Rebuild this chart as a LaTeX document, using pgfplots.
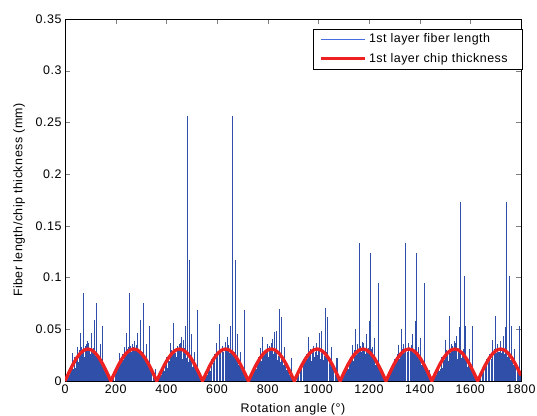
\documentclass[border=0pt]{standalone}
\usepackage{fontspec}
\setmainfont{Liberation Sans}[LetterSpace=4]
\usepackage{pgfplots}
\pgfplotsset{compat=1.18}
\definecolor{mblue}{rgb}{0.19,0.31,0.66}
\definecolor{lblue}{rgb}{0.28,0.42,0.88}
\definecolor{mred}{rgb}{0.93,0.13,0.13}
\begin{document}
\begin{tikzpicture}
\begin{axis}[
 scale only axis, width=456bp, height=362bp,
 xmin=0, xmax=1800, ymin=0, ymax=0.35,
 xtick={0,200,400,600,800,1000,1200,1400,1600,1800},
 ytick={0,0.05,0.1,0.15,0.2,0.25,0.3,0.35},
 tick align=inside, major tick length=5bp,
 font=\fontsize{12.5}{15}\selectfont,
 /pgf/number format/assume math mode=true,
 yticklabel style={/pgf/number format/fixed,/pgf/number format/precision=2},
 xticklabel style={/pgf/number format/1000 sep={}},
 xlabel={Rotation angle (°)},
 ylabel={Fiber length/chip thickness (mm)},
 xlabel style={yshift=-3bp},
 ylabel style={yshift=4bp},
 legend style={at={(rel axis cs:1.002,0.973)}, anchor=north east, draw=black,
   font=\fontsize{12.5}{15}\selectfont, inner xsep=6bp, inner ysep=3bp,
   cells={anchor=west}, row sep=5bp},
]
\addplot[ycomb, mblue, line width=0.85bp, no markers, forget plot]
coordinates {
(6,0.002)(12,0.005)(18,0.006)(24,0.011)(30,0.010)(36,0.016)(42,0.013)(48,0.020)(54,0.018)(60,0.024)(66,0.019)(72,0.027)(78,0.023)(84,0.028)(90,0.025)(96,0.029)(102,0.021)(108,0.027)(114,0.020)(120,0.024)(126,0.018)(132,0.021)(138,0.015)(144,0.016)(150,0.011)(156,0.010)(162,0.006)(168,0.005)(174,0.002)
(187,0.002)(193,0.005)(199,0.006)(205,0.011)(211,0.010)(217,0.016)(223,0.013)(229,0.020)(235,0.018)(241,0.024)(247,0.019)(253,0.027)(259,0.023)(265,0.028)(271,0.025)(277,0.029)(283,0.021)(289,0.027)(295,0.020)(301,0.024)(307,0.018)(313,0.021)(319,0.015)(325,0.016)(331,0.011)(337,0.010)(343,0.006)(349,0.005)(355,0.002)
(368,0.002)(374,0.005)(380,0.006)(386,0.011)(392,0.010)(398,0.016)(404,0.013)(410,0.020)(416,0.018)(422,0.024)(428,0.019)(434,0.027)(440,0.023)(446,0.028)(452,0.025)(458,0.029)(464,0.021)(470,0.027)(476,0.020)(482,0.024)(488,0.018)(494,0.021)(500,0.015)(506,0.016)(512,0.011)(518,0.010)(524,0.006)(530,0.005)(536,0.002)
(549,0.002)(555,0.005)(561,0.006)(567,0.011)(573,0.010)(579,0.016)(585,0.013)(591,0.020)(597,0.018)(603,0.024)(609,0.019)(615,0.027)(621,0.023)(627,0.028)(633,0.025)(639,0.029)(645,0.021)(651,0.027)(657,0.020)(663,0.024)(669,0.018)(675,0.021)(681,0.015)(687,0.016)(693,0.011)(699,0.010)(705,0.006)(711,0.005)(717,0.002)
(730,0.002)(736,0.005)(742,0.006)(748,0.011)(754,0.010)(760,0.016)(766,0.013)(772,0.020)(778,0.018)(784,0.024)(790,0.019)(796,0.027)(802,0.023)(808,0.028)(814,0.025)(820,0.029)(826,0.021)(832,0.027)(838,0.020)(844,0.024)(850,0.018)(856,0.021)(862,0.015)(868,0.016)(874,0.011)(880,0.010)(886,0.006)(892,0.005)(898,0.002)
(911,0.002)(917,0.005)(923,0.006)(929,0.011)(935,0.010)(941,0.016)(947,0.013)(953,0.020)(959,0.018)(965,0.024)(971,0.019)(977,0.027)(983,0.023)(989,0.028)(995,0.025)(1001,0.029)(1007,0.021)(1013,0.027)(1019,0.020)(1025,0.024)(1031,0.018)(1037,0.021)(1043,0.015)(1049,0.016)(1055,0.011)(1061,0.010)(1067,0.006)(1073,0.005)(1079,0.002)
(1092,0.002)(1098,0.005)(1104,0.006)(1110,0.011)(1116,0.010)(1122,0.016)(1128,0.013)(1134,0.020)(1140,0.018)(1146,0.024)(1152,0.019)(1158,0.027)(1164,0.023)(1170,0.028)(1176,0.025)(1182,0.029)(1188,0.021)(1194,0.027)(1200,0.020)(1206,0.024)(1212,0.018)(1218,0.021)(1224,0.015)(1230,0.016)(1236,0.011)(1242,0.010)(1248,0.006)(1254,0.005)(1260,0.002)
(1273,0.002)(1279,0.005)(1285,0.006)(1291,0.011)(1297,0.010)(1303,0.016)(1309,0.013)(1315,0.020)(1321,0.018)(1327,0.024)(1333,0.019)(1339,0.027)(1345,0.023)(1351,0.028)(1357,0.025)(1363,0.029)(1369,0.021)(1375,0.027)(1381,0.020)(1387,0.024)(1393,0.018)(1399,0.021)(1405,0.015)(1411,0.016)(1417,0.011)(1423,0.010)(1429,0.006)(1435,0.005)(1441,0.002)
(1454,0.002)(1460,0.005)(1466,0.006)(1472,0.011)(1478,0.010)(1484,0.016)(1490,0.013)(1496,0.020)(1502,0.018)(1508,0.024)(1514,0.019)(1520,0.027)(1526,0.023)(1532,0.028)(1538,0.025)(1544,0.029)(1550,0.021)(1556,0.027)(1562,0.020)(1568,0.024)(1574,0.018)(1580,0.021)(1586,0.015)(1592,0.016)(1598,0.011)(1604,0.010)(1610,0.006)(1616,0.005)(1622,0.002)
(1635,0.002)(1641,0.005)(1647,0.006)(1653,0.011)(1659,0.010)(1665,0.016)(1671,0.013)(1677,0.020)(1683,0.018)(1689,0.024)(1695,0.019)(1701,0.027)(1707,0.023)(1713,0.028)(1719,0.025)(1725,0.029)(1731,0.021)(1737,0.027)(1743,0.020)(1749,0.024)(1755,0.018)(1761,0.021)(1767,0.015)(1773,0.016)(1779,0.011)(1785,0.010)(1791,0.006)(1797,0.005)
};
\addplot[ycomb, mblue, line width=0.85bp, no markers,
 legend image code/.code={\draw[lblue,line width=1bp] (0bp,0bp)--(44bp,0bp);}]
coordinates {
(3,0.002)(9,0.004)(15,0.010)(21,0.010)(27,0.016)(33,0.012)(39,0.023)(45,0.022)(51,0.019)(57,0.030)(63,0.025)(69,0.030)(75,0.022)(81,0.034)(87,0.029)(93,0.037)(99,0.026)(105,0.030)(111,0.032)(117,0.022)(123,0.031)(129,0.022)(135,0.023)(141,0.014)(147,0.019)(153,0.013)(159,0.009)(165,0.010)(171,0.004)(177,0.002)
(72,0.085)(126,0.075)(116,0.059)(149,0.053)(103,0.046)(60,0.046)(138,0.036)(90,0.039)(84,0.036)(66,0.033)(30,0.027)(50,0.033)
(186,0.003)(192,0.006)(198,0.007)(204,0.014)(210,0.013)(216,0.021)(222,0.017)(228,0.026)(234,0.021)(240,0.027)(246,0.031)(252,0.025)(258,0.034)(264,0.028)(270,0.033)(276,0.027)(282,0.035)(288,0.026)(294,0.030)(300,0.023)(306,0.028)(312,0.020)(318,0.022)(324,0.015)(330,0.017)(336,0.011)(342,0.010)(348,0.006)(354,0.004)(360,0.001)
(255,0.085)(309,0.075)(299,0.059)(332,0.053)(286,0.046)(243,0.046)(321,0.036)(273,0.039)(267,0.036)(249,0.033)(213,0.027)(233,0.033)(356,0.012)
(365,0.002)(371,0.004)(377,0.010)(383,0.010)(389,0.016)(395,0.012)(401,0.023)(407,0.022)(413,0.019)(419,0.030)(425,0.025)(431,0.030)(437,0.022)(443,0.034)(449,0.029)(455,0.037)(461,0.026)(467,0.030)(473,0.032)(479,0.022)(485,0.031)(491,0.022)(497,0.023)(503,0.014)(509,0.019)(515,0.013)(521,0.009)(527,0.010)(533,0.004)(539,0.002)
(483,0.256)(491,0.117)(524,0.069)(428,0.056)(474,0.053)(500,0.0455)(460,0.043)(415,0.037)(509,0.028)(450,0.036)(468,0.040)
(548,0.003)(554,0.006)(560,0.007)(566,0.014)(572,0.013)(578,0.021)(584,0.017)(590,0.026)(596,0.021)(602,0.027)(608,0.031)(614,0.025)(620,0.034)(626,0.028)(632,0.033)(638,0.027)(644,0.035)(650,0.026)(656,0.030)(662,0.023)(668,0.028)(674,0.020)(680,0.022)(686,0.015)(692,0.017)(698,0.011)(704,0.010)(710,0.006)(716,0.004)(722,0.001)
(662,0.256)(674,0.117)(707,0.069)(608,0.055)(653,0.053)(679,0.0455)(632,0.038)(599,0.037)(691,0.028)(642,0.043)(620,0.034)
(727,0.002)(733,0.004)(739,0.010)(745,0.010)(751,0.016)(757,0.012)(763,0.023)(769,0.022)(775,0.019)(781,0.030)(787,0.025)(793,0.030)(799,0.022)(805,0.034)(811,0.029)(817,0.037)(823,0.026)(829,0.030)(835,0.032)(841,0.022)(847,0.031)(853,0.022)(859,0.023)(865,0.014)(871,0.019)(877,0.013)(883,0.009)(889,0.010)(895,0.004)(901,0.002)
(845,0.070)(854,0.0616)(833,0.0487)(828,0.047)(781,0.043)(813,0.037)(868,0.0326)(772,0.032)(895,0.022)(820,0.041)(800,0.036)
(910,0.003)(916,0.006)(922,0.007)(928,0.014)(934,0.013)(940,0.021)(946,0.017)(952,0.026)(958,0.021)(964,0.027)(970,0.031)(976,0.025)(982,0.034)(988,0.028)(994,0.033)(1000,0.027)(1006,0.035)(1012,0.026)(1018,0.030)(1024,0.023)(1030,0.028)(1036,0.020)(1042,0.022)(1048,0.015)(1054,0.017)(1060,0.011)(1066,0.010)(1072,0.006)(1078,0.004)(1084,0.001)
(1028,0.071)(1037,0.0616)(1012,0.048)(962,0.043)(1004,0.046)(991,0.037)(1051,0.0326)(1072,0.022)(951,0.024)(980,0.034)
(1089,0.002)(1095,0.004)(1101,0.010)(1107,0.010)(1113,0.016)(1119,0.012)(1125,0.023)(1131,0.022)(1137,0.019)(1143,0.030)(1149,0.025)(1155,0.030)(1161,0.022)(1167,0.034)(1173,0.029)(1179,0.037)(1185,0.026)(1191,0.030)(1197,0.032)(1203,0.022)(1209,0.031)(1215,0.022)(1221,0.023)(1227,0.014)(1233,0.019)(1239,0.013)(1245,0.009)(1251,0.010)(1257,0.004)(1263,0.002)
(1164,0.133)(1206,0.1235)(1238,0.0945)(1202,0.058)(1147,0.050)(1191,0.045)(1222,0.0416)(1135,0.0348)(1175,0.038)(1076,0.022)(1155,0.036)(1214,0.033)
(1272,0.003)(1278,0.006)(1284,0.007)(1290,0.014)(1296,0.013)(1302,0.021)(1308,0.017)(1314,0.026)(1320,0.021)(1326,0.027)(1332,0.031)(1338,0.025)(1344,0.034)(1350,0.028)(1356,0.033)(1362,0.027)(1368,0.035)(1374,0.026)(1380,0.030)(1386,0.023)(1392,0.028)(1398,0.020)(1404,0.022)(1410,0.015)(1416,0.017)(1422,0.011)(1428,0.010)(1434,0.006)(1440,0.004)(1446,0.001)
(1345,0.133)(1388,0.1235)(1418,0.0945)(1382,0.058)(1327,0.050)(1371,0.045)(1402,0.0416)(1317,0.0348)(1354,0.037)(1336,0.036)(1394,0.033)
(1451,0.002)(1457,0.004)(1463,0.010)(1469,0.010)(1475,0.016)(1481,0.012)(1487,0.023)(1493,0.022)(1499,0.019)(1505,0.030)(1511,0.025)(1517,0.030)(1523,0.022)(1529,0.034)(1535,0.029)(1541,0.037)(1547,0.026)(1553,0.030)(1559,0.032)(1565,0.022)(1571,0.031)(1577,0.022)(1583,0.023)(1589,0.014)(1595,0.019)(1601,0.013)(1607,0.009)(1613,0.010)(1619,0.004)(1625,0.002)
(1560,0.1734)(1577,0.1015)(1516,0.0629)(1609,0.053)(1582,0.053)(1555,0.052)(1547,0.0435)(1503,0.0397)(1536,0.039)(1595,0.0306)(1437,0.0106)(1526,0.036)
(1634,0.003)(1640,0.006)(1646,0.007)(1652,0.014)(1658,0.013)(1664,0.021)(1670,0.017)(1676,0.026)(1682,0.021)(1688,0.027)(1694,0.031)(1700,0.025)(1706,0.034)(1712,0.028)(1718,0.033)(1724,0.027)(1730,0.035)(1736,0.026)(1742,0.030)(1748,0.023)(1754,0.028)(1760,0.020)(1766,0.022)(1772,0.015)(1778,0.017)(1784,0.011)(1790,0.010)(1796,0.006)
(1743,0.1734)(1756,0.1015)(1700,0.0629)(1793,0.053)(1763,0.053)(1739,0.052)(1731,0.0435)(1687,0.040)(1717,0.039)(1775,0.031)(1708,0.036)
};
\addlegendentry{1st layer fiber length}
\addplot[mred, line width=3.3bp, no markers, line join=round,
 legend image code/.code={\draw[mred,line width=3.5bp] (0bp,0bp)--(44bp,0bp);}]
coordinates {
(0,0)(15.1,0.0080)(30.2,0.0155)(45.3,0.0219)(60.3,0.0268)(75.4,0.0299)(90.5,0.0310)(105.6,0.0299)(120.7,0.0268)(135.8,0.0219)(150.8,0.0155)(165.9,0.0080)
(181,0)(196.1,0.0080)(211.2,0.0155)(226.3,0.0219)(241.3,0.0268)(256.4,0.0299)(271.5,0.0310)(286.6,0.0299)(301.7,0.0268)(316.8,0.0219)(331.8,0.0155)(346.9,0.0080)
(362,0)(377.1,0.0080)(392.2,0.0155)(407.3,0.0219)(422.3,0.0268)(437.4,0.0299)(452.5,0.0310)(467.6,0.0299)(482.7,0.0268)(497.8,0.0219)(512.8,0.0155)(527.9,0.0080)
(543,0)(558.1,0.0080)(573.2,0.0155)(588.3,0.0219)(603.3,0.0268)(618.4,0.0299)(633.5,0.0310)(648.6,0.0299)(663.7,0.0268)(678.8,0.0219)(693.8,0.0155)(708.9,0.0080)
(724,0)(739.1,0.0080)(754.2,0.0155)(769.3,0.0219)(784.3,0.0268)(799.4,0.0299)(814.5,0.0310)(829.6,0.0299)(844.7,0.0268)(859.8,0.0219)(874.8,0.0155)(889.9,0.0080)
(905,0)(920.1,0.0080)(935.2,0.0155)(950.3,0.0219)(965.3,0.0268)(980.4,0.0299)(995.5,0.0310)(1010.6,0.0299)(1025.7,0.0268)(1040.8,0.0219)(1055.8,0.0155)(1070.9,0.0080)
(1086,0)(1101.1,0.0080)(1116.2,0.0155)(1131.3,0.0219)(1146.3,0.0268)(1161.4,0.0299)(1176.5,0.0310)(1191.6,0.0299)(1206.7,0.0268)(1221.8,0.0219)(1236.8,0.0155)(1251.9,0.0080)
(1267,0)(1282.1,0.0080)(1297.2,0.0155)(1312.3,0.0219)(1327.3,0.0268)(1342.4,0.0299)(1357.5,0.0310)(1372.6,0.0299)(1387.7,0.0268)(1402.8,0.0219)(1417.8,0.0155)(1432.9,0.0080)
(1448,0)(1463.1,0.0080)(1478.2,0.0155)(1493.3,0.0219)(1508.3,0.0268)(1523.4,0.0299)(1538.5,0.0310)(1553.6,0.0299)(1568.7,0.0268)(1583.8,0.0219)(1598.8,0.0155)(1613.9,0.0080)
(1629,0)(1644.1,0.0080)(1659.2,0.0155)(1674.3,0.0219)(1689.3,0.0268)(1704.4,0.0299)(1719.5,0.0310)(1734.6,0.0299)(1749.7,0.0268)(1764.8,0.0219)(1779.8,0.0155)(1794.9,0.0080)(1800,0.0053)
};
\addlegendentry{1st layer chip thickness\hspace*{6bp}}
\end{axis}
\pgfresetboundingbox
\path[use as bounding box] ([shift={(-65bp,-35bp)}]current axis.south west) rectangle ([shift={(16bp,19bp)}]current axis.north east);
\end{tikzpicture}
\end{document}
